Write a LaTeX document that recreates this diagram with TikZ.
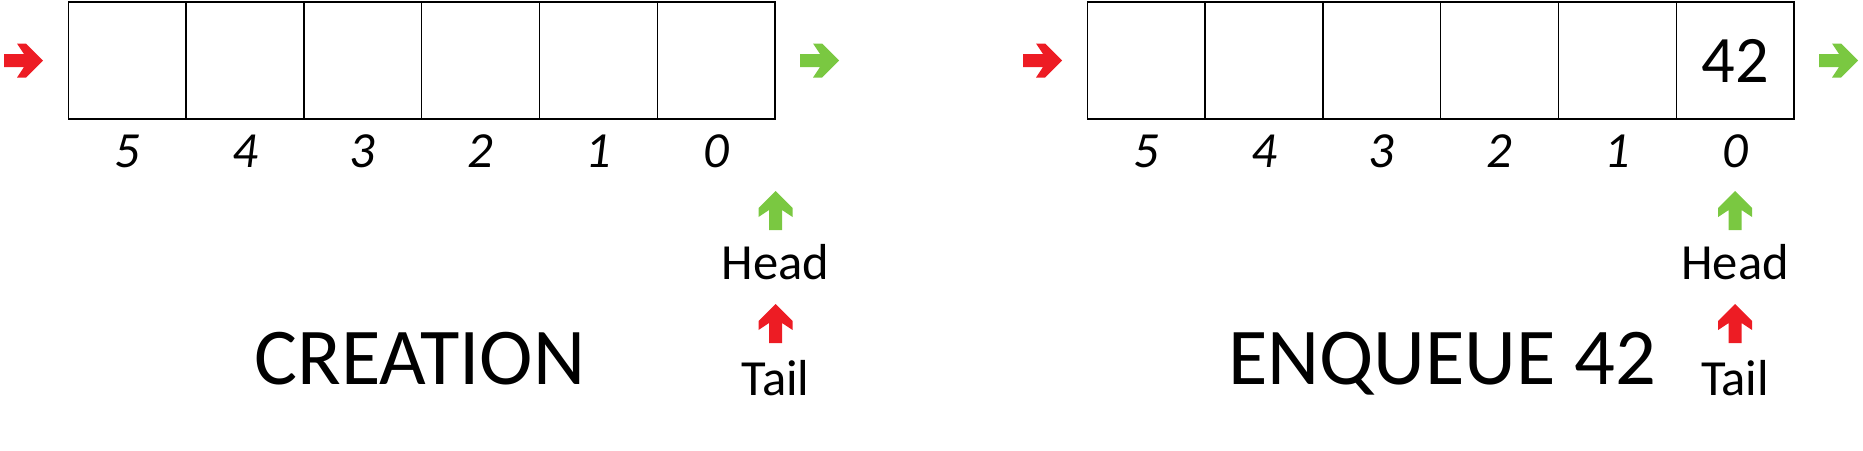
\documentclass[tikz,border=0pt]{standalone}
\usepackage{fontspec}
\setmainfont{Carlito}
\usepackage{tikz}
\usetikzlibrary{positioning}
\definecolor{qred}{RGB}{237,28,36}
\definecolor{qgreen}{RGB}{122,200,65}

\begin{document}
\begin{tikzpicture}[x=0.5pt,y=-0.5pt,
    cell/.style={draw,line width=0.7pt,minimum width=58.9pt,minimum height=58.5pt,inner sep=0pt,outer sep=0pt},
    idx/.style={anchor=base,font=\fontsize{25.3}{30}\selectfont\itshape},
    lbl/.style={anchor=base,font=\fontsize{25.3}{30}\selectfont},
    ttl/.style={anchor=base,font=\fontsize{40.3}{48}\selectfont},
    blockarr/.pic={\fill (-39,-6.5) -- (-19,-6.5) -- (-26,-17) -- (-17,-17) -- (0,0)
      -- (-17,17) -- (-26,17) -- (-19,6.5) -- (-39,6.5) -- cycle;}]
  \useasboundingbox (0,0) rectangle (1863,450);
  % creation
  \foreach \i in {0,...,5} {
    \node[cell] (a\i) at ({775-58.9-117.8*\i},60.5) {};
    \node[idx] (ia\i) at ([yshift=-24pt]a\i.south) {\i};
  }
  \pic[qred] at (43,60.5) {blockarr};
  \pic[qgreen] at (839,60.5) {blockarr};
  \pic[qgreen,rotate=90] at (775.5,191) {blockarr};
  \node[lbl] (heada) at (775.5,279) {Head};
  \pic[qred,rotate=90] at (775.5,304) {blockarr};
  \node[lbl] (taila) at (775.5,395) {Tail};
  \node[ttl] (ttla) at (420,384) {CREATION};
  % enqueue 42
  \foreach \i in {0,...,5} {
    \node[cell] (b\i) at ({1794-58.9-117.8*\i},60.5) {};
    \node[idx] (ib\i) at ([yshift=-24pt]b\i.south) {\i};
  }
  \node[font=\fontsize{33.2}{40}\selectfont] (val) at (b0) {42};
  \pic[qred] at (1062,60.5) {blockarr};
  \pic[qgreen] at (1858,60.5) {blockarr};
  \pic[qgreen,rotate=90] at (b0 |- 0,191) {blockarr};
  \node[lbl] (headb) at (b0 |- 0,279) {Head};
  \pic[qred,rotate=90] at (b0 |- 0,304) {blockarr};
  \node[lbl] (tailb) at (b0 |- 0,395) {Tail};
  \node[ttl] (ttlb) at (1442,384) {ENQUEUE 42};
\end{tikzpicture}
\end{document}
